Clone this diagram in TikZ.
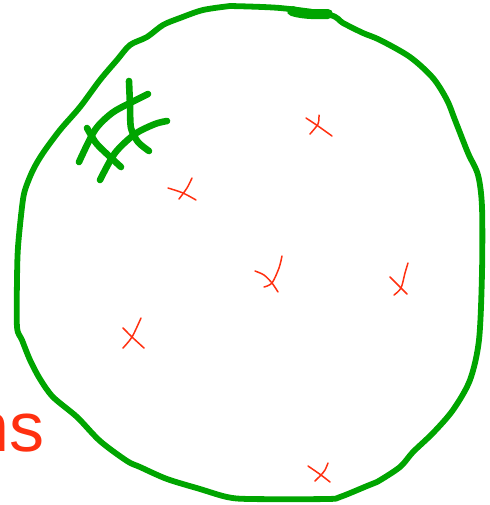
\documentclass[tikz,border=0pt]{standalone}
\usepackage{fontspec}
\setmainfont{Liberation Sans}
\definecolor{pen}{RGB}{0,165,0}
\definecolor{ink}{RGB}{255,48,16}
\tikzset{
  outline/.style={draw=pen, line width=2.9pt, line cap=round, line join=round},
  hatch/.style={draw=pen, line width=3.3pt, line cap=round, line join=round},
  cross/.style={draw=ink, line width=0.75pt, line cap=round, line join=round},
  label/.style={text=ink, font=\fontsize{35}{40}\selectfont, inner sep=0pt, anchor=base east}
}
\begin{document}
\begin{tikzpicture}[x=0.5pt, y=-0.5pt]
\useasboundingbox (0,0) rectangle (490,505);
\clip (0,0) rectangle (490,505);
% outline
\draw[outline] plot[smooth, tension=0.5] coordinates {
 (230,6) (280,8) (330,15) (343,23) (363,33) (380,40) (410,57) (433,78)
 (447,100) (455,120) (468,153) (478,175) (482,207) (482,273) (479,340)
 (470,380) (453,410) (433,433) (413,452) (400,467) (377,482) (367,486)
 (340,497) (327,499) (250,499) (227,497) (200,489) (167,479) (140,467)
 (127,461) (100,441) (77,417) (53,397) (40,379) (30,360) (22,340) (17,327)
 (17,280) (18,247) (22,207) (25,190) (33,170) (43,153) (60,130) (80,107)
 (100,80) (117,60) (130,45) (147,37) (163,25) (180,18) (203,10) (230,6)};
\draw[outline, line width=5pt] (292,11) .. controls (305,15) and (318,14) .. (328,14);
% hatch
\draw[hatch] plot[smooth] coordinates {(129,81) (130,105) (131,128) (138,142) (149,151)};
\draw[hatch] plot[smooth] coordinates {(148,94) (130,103) (112,113) (95,130) (79,162)};
\draw[hatch] plot[smooth] coordinates {(167,121) (155,124) (135,134) (115,153) (100,180)};
\draw[hatch] plot[smooth] coordinates {(87,128) (96,143) (108,155) (121,167)};
% crosses
\draw[cross] plot[smooth] coordinates {(306,118) (318,126) (332,136)};
\draw[cross] plot[smooth] coordinates {(319,115) (318,124) (310,134)};
\draw[cross] plot[smooth] coordinates {(168,188) (183,193) (196,200)};
\draw[cross] plot[smooth] coordinates {(192,178) (187,188) (179,199)};
\draw[cross] plot[smooth] coordinates {(255,271) (264,275) (272,283) (278,292)};
\draw[cross] plot[smooth] coordinates {(282,256) (279,268) (272,283) (264,287)};
\draw[cross] plot[smooth] coordinates {(390,277) (401,288) (407,294)};
\draw[cross] plot[smooth] coordinates {(408,263) (405,273) (401,288) (394,295)};
\draw[cross] plot[smooth] coordinates {(123,328) (132,337) (144,348)};
\draw[cross] plot[smooth] coordinates {(141,318) (132,337) (123,348)};
\draw[cross] plot[smooth] coordinates {(308,466) (321,475) (330,482)};
\draw[cross] plot[smooth] coordinates {(328,463) (325,470) (321,475) (315,481)};
% text
\node[label] (t) at (45,451) {ns};
\end{tikzpicture}
\end{document}
